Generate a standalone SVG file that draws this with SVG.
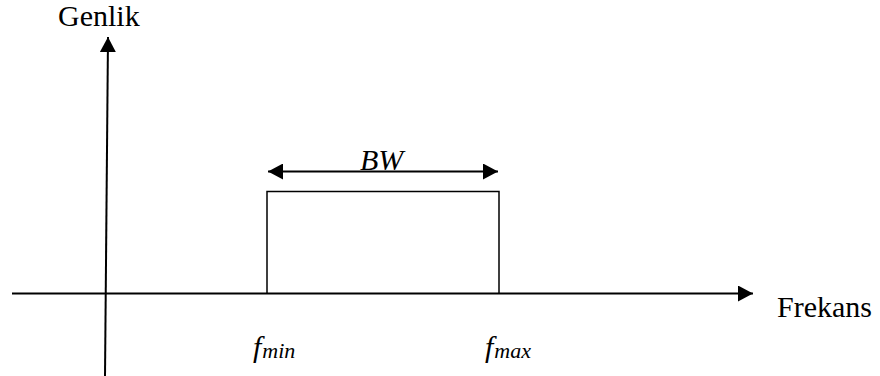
<svg xmlns="http://www.w3.org/2000/svg" width="880" height="376" viewBox="0 0 880 376">
<style>
.t{font-family:"Liberation Serif","Times New Roman",serif;fill:#000}
.i{font-style:italic}
.ax{stroke:#000;stroke-width:2;fill:none}
.box{stroke:#000;stroke-width:1.5;fill:none}
</style>
<defs>
<marker id="ah" viewBox="0 0 15 16" refX="15" refY="8" markerWidth="15" markerHeight="16" markerUnits="userSpaceOnUse" orient="auto-start-reverse">
<path d="M0,0 L15,8 L0,16 Z" fill="#000"/>
</marker>
</defs>
<rect width="880" height="376" fill="#fff"/>
<g id="connectors">
<line id="x-axis" class="ax" x1="12" y1="293.5" x2="753" y2="293.5" marker-end="url(#ah)"/>
<line id="y-axis" class="ax" x1="105" y1="376" x2="108" y2="37" marker-end="url(#ah)"/>
<line id="bw-arrow" class="ax" x1="268" y1="171.5" x2="498" y2="171.5" marker-start="url(#ah)" marker-end="url(#ah)"/>
</g>
<g id="band">
<polyline class="box" points="267,293.5 267,191.5 499,191.5 499,293.5"/>
</g>
<g id="label-genlik"><text class="t" x="58" y="26" font-size="30">Genlik</text></g>
<g id="label-frekans"><text class="t" x="777" y="317" font-size="30">Frekans</text></g>
<g id="label-bw"><text class="t i" x="360" y="170" font-size="30">BW</text></g>
<g id="label-fmin"><text class="t i" x="253" y="357"><tspan font-size="30">f</tspan><tspan font-size="22" dx="1" dy="1">min</tspan></text></g>
<g id="label-fmax"><text class="t i" x="485" y="357"><tspan font-size="30">f</tspan><tspan font-size="22" dx="1" dy="1">max</tspan></text></g>
</svg>
